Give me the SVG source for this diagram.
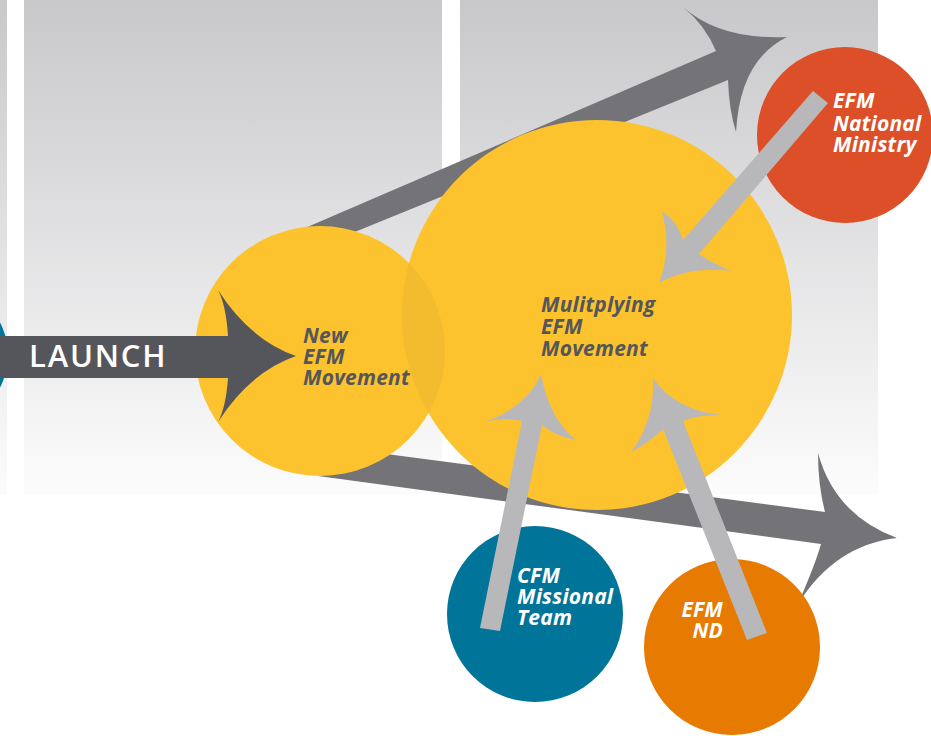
<svg xmlns="http://www.w3.org/2000/svg" width="931" height="736" viewBox="0 0 931 736">
<defs>
<linearGradient id="bg" x1="0" y1="0" x2="0" y2="495" gradientUnits="userSpaceOnUse">
<stop offset="0" stop-color="#c8c8ca"/>
<stop offset="1" stop-color="#fdfcfd"/>
</linearGradient>
<clipPath id="bigClip"><circle cx="597" cy="315" r="195"/></clipPath>
<style>
.yellow{fill:#fdc32e}
.dark{fill:#747378}
.launch{fill:#55565b}
.light{fill:#b8b8ba}
.lbl{font-family:"Open Sans","Liberation Sans",sans-serif;font-style:italic;font-weight:700;font-size:21px;letter-spacing:0.2px}
.lblDark{fill:#55565b}
.lblWhite{fill:#ffffff}
</style>
</defs>

<g id="background">
<rect x="0" y="0" width="878" height="495" fill="url(#bg)"/>
<rect x="7" y="0" width="17" height="495" fill="#ffffff"/>
<rect x="442" y="0" width="18" height="495" fill="#ffffff"/>
<circle cx="-62" cy="355" r="70" fill="#007499"/>
</g>

<g id="connectors">
<path id="growth-top" class="dark" d="M305,228 L716,51 Q705,25 683,7 Q720,40 787,37 Q740,60 736,132 Q729,110 728,80 L340,238 Z"/>
<path id="growth-bottom" class="dark" d="M318,445 L825,512 Q818,485 818,453 Q835,515 897,538 Q835,545 798,604 Q815,565 821,544 L318,476 Z"/>
</g>

<g id="node-new">
<circle class="yellow" cx="320" cy="351" r="125"/>
</g>
<g id="node-multiplying">
<circle class="yellow" cx="597" cy="315" r="195"/>
<circle cx="320" cy="351" r="125" fill="#f3bb2e" clip-path="url(#bigClip)"/>
</g>
<g id="node-national">
<circle cx="845" cy="135" r="88" fill="#dc4f28"/>
</g>
<g id="node-cfm">
<circle cx="535" cy="614" r="88" fill="#007499"/>
</g>
<g id="node-nd">
<circle cx="732" cy="647" r="88" fill="#e77a00"/>
</g>

<g id="connectors-inflow">
<path id="launch" class="launch" d="M0,336 L228,336 Q226,305 218,290 Q250,340 296,356 Q250,372 218,422 Q226,407 228,378 L0,378 Z"/>
<path id="from-national" class="light" d="M813,91 L828,103 L699,254 Q710,262 731,271 Q690,266 659,283 Q672,250 662,211 Q678,222 683,240 Z"/>
<path id="from-cfm" class="light" d="M480,628 L522,421 Q503,417 484,422 Q525,408 541,375 Q550,420 576,440 Q555,436 542,425 L500,631 Z"/>
<path id="from-nd" class="light" d="M747,640 L663,429 Q650,442 631,452 Q655,420 653,378 Q675,410 721,415 Q700,414 683,421 L767,633 Z"/>
</g>

<g id="labels">
<text x="29" y="367" font-family="'Open Sans','Liberation Sans',sans-serif" font-weight="600" font-size="31" letter-spacing="1.8" fill="#ffffff">LAUNCH</text>
<text class="lbl lblDark"><tspan x="303" y="343">New</tspan><tspan x="303" y="364">EFM</tspan><tspan x="303" y="385">Movement</tspan></text>
<text class="lbl lblDark"><tspan x="541" y="312">Mulitplying</tspan><tspan x="541" y="334">EFM</tspan><tspan x="541" y="356">Movement</tspan></text>
<text class="lbl lblWhite"><tspan x="833" y="108">EFM</tspan><tspan x="833" y="131">National</tspan><tspan x="833" y="152">Ministry</tspan></text>
<text class="lbl lblWhite"><tspan x="517" y="583">CFM</tspan><tspan x="517" y="604">Missional</tspan><tspan x="517" y="625">Team</tspan></text>
<text class="lbl lblWhite" text-anchor="end"><tspan x="723" y="617">EFM</tspan><tspan x="723" y="638">ND</tspan></text>
</g>
</svg>
